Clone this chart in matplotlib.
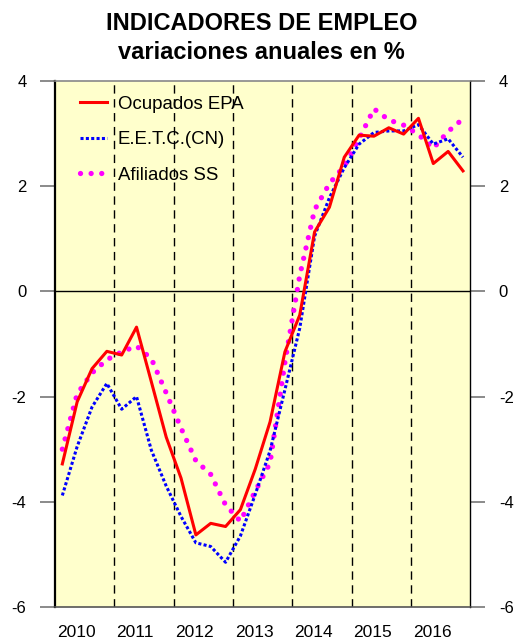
import matplotlib
matplotlib.use("Agg")
import matplotlib.pyplot as plt

plt.rcParams['font.family'] = ['Liberation Sans', 'DejaVu Sans']

# quarterly data 2010Q1 - 2016Q4
years = [2010, 2011, 2012, 2013, 2014, 2015, 2016]
ocupados_epa = [-3.28, -2.10, -1.47, -1.14, -1.21, -0.68, -1.72, -2.77,
                -3.55, -4.63, -4.41, -4.47, -4.15, -3.38, -2.48, -1.15,
                -0.45, 1.13, 1.60, 2.55, 2.97, 2.95, 3.11, 2.99,
                3.29, 2.43, 2.66, 2.29]
eetc_cn = [-3.88, -2.95, -2.20, -1.75, -2.24, -2.00, -3.02, -3.70,
           -4.28, -4.78, -4.85, -5.15, -4.65, -3.86, -3.03, -1.87,
           -0.70, 1.05, 1.78, 2.35, 2.80, 3.02, 3.05, 3.05,
           3.17, 2.80, 2.90, 2.55]
afiliados_ss = [-3.00, -1.95, -1.55, -1.30, -1.15, -1.04, -1.28, -1.93,
                -2.60, -3.22, -3.48, -4.06, -4.37, -3.80, -3.26, -1.35,
                0.30, 1.55, 2.05, 2.38, 2.90, 3.47, 3.26, 3.16,
                2.98, 2.72, 3.04, 3.28]
yticks = [-6, -4, -2, 0, 2, 4]

x = [y + (q + 0.5) / 4 for y in years for q in range(4)]

fig = plt.figure(figsize=(5.18, 6.39), dpi=100)
ax = fig.add_axes([0.1060, 0.0501, 0.8021, 0.8232])
ax.set_facecolor('#FFFFCC')

# year separators and zero line
for y in years[1:]:
    ax.axvline(y, color='black', lw=1, ls=(0, (6, 4)), zorder=1)
ax.axhline(0, color='black', lw=1, zorder=1)

ax.plot(x, ocupados_epa, color='#FF0000', lw=2.2, label='Ocupados EPA', zorder=4)
ax.plot(x, eetc_cn, color='#0000FF', lw=2.2, ls=(0, (1, 0.75)),
        dash_capstyle='butt', label='E.E.T.C.(CN)', zorder=3)
ax.plot(x, afiliados_ss, color='#FF00FF', lw=3.8, ls=(0, (0.01, 2.0)),
        dash_capstyle='round', label='Afiliados SS', zorder=2)

ax.set_xlim(2010, 2017)
ax.set_ylim(-6, 4)
ax.set_yticks(yticks)
ax.set_yticklabels([str(v) for v in yticks])
ax.tick_params(axis='y', which='major', direction='out', length=11, width=1.2,
               color='#777777', labelsize=12, pad=9.5, left=True, right=True,
               labelleft=True, labelright=True)
for t in ax.yaxis.get_major_ticks():
    if t.get_loc() == 0:
        t.tick1line.set_color('black')
        t.tick2line.set_color('black')

ax.set_xticks([y + 0.03 for y in years])
ax.set_xticklabels([str(y) for y in years], ha='left')
ax.tick_params(axis='x', length=0, labelsize=12.5, pad=13)

ax.spines['left'].set_color('black')
ax.spines['left'].set_linewidth(1.6)
ax.spines['right'].set_color('black')
ax.spines['right'].set_linewidth(1.0)
ax.spines['top'].set_color('#888888')
ax.spines['top'].set_linewidth(1.2)
ax.spines['bottom'].set_color('#555555')
ax.spines['bottom'].set_linewidth(1.2)

ax.legend(loc='upper left', bbox_to_anchor=(0.06, 0.972), frameon=False,
          fontsize=13.4, handlelength=1.45, handletextpad=0.6,
          labelspacing=1.0, borderpad=0, borderaxespad=0)

fig.text(0.505, 1 - 30 / 639, 'INDICADORES DE EMPLEO', ha='center',
         va='baseline', fontsize=17, fontweight='bold')
fig.text(0.505, 1 - 59 / 639, 'variaciones anuales en %', ha='center',
         va='baseline', fontsize=17, fontweight='bold')

fig.savefig('out.png', dpi=100)
